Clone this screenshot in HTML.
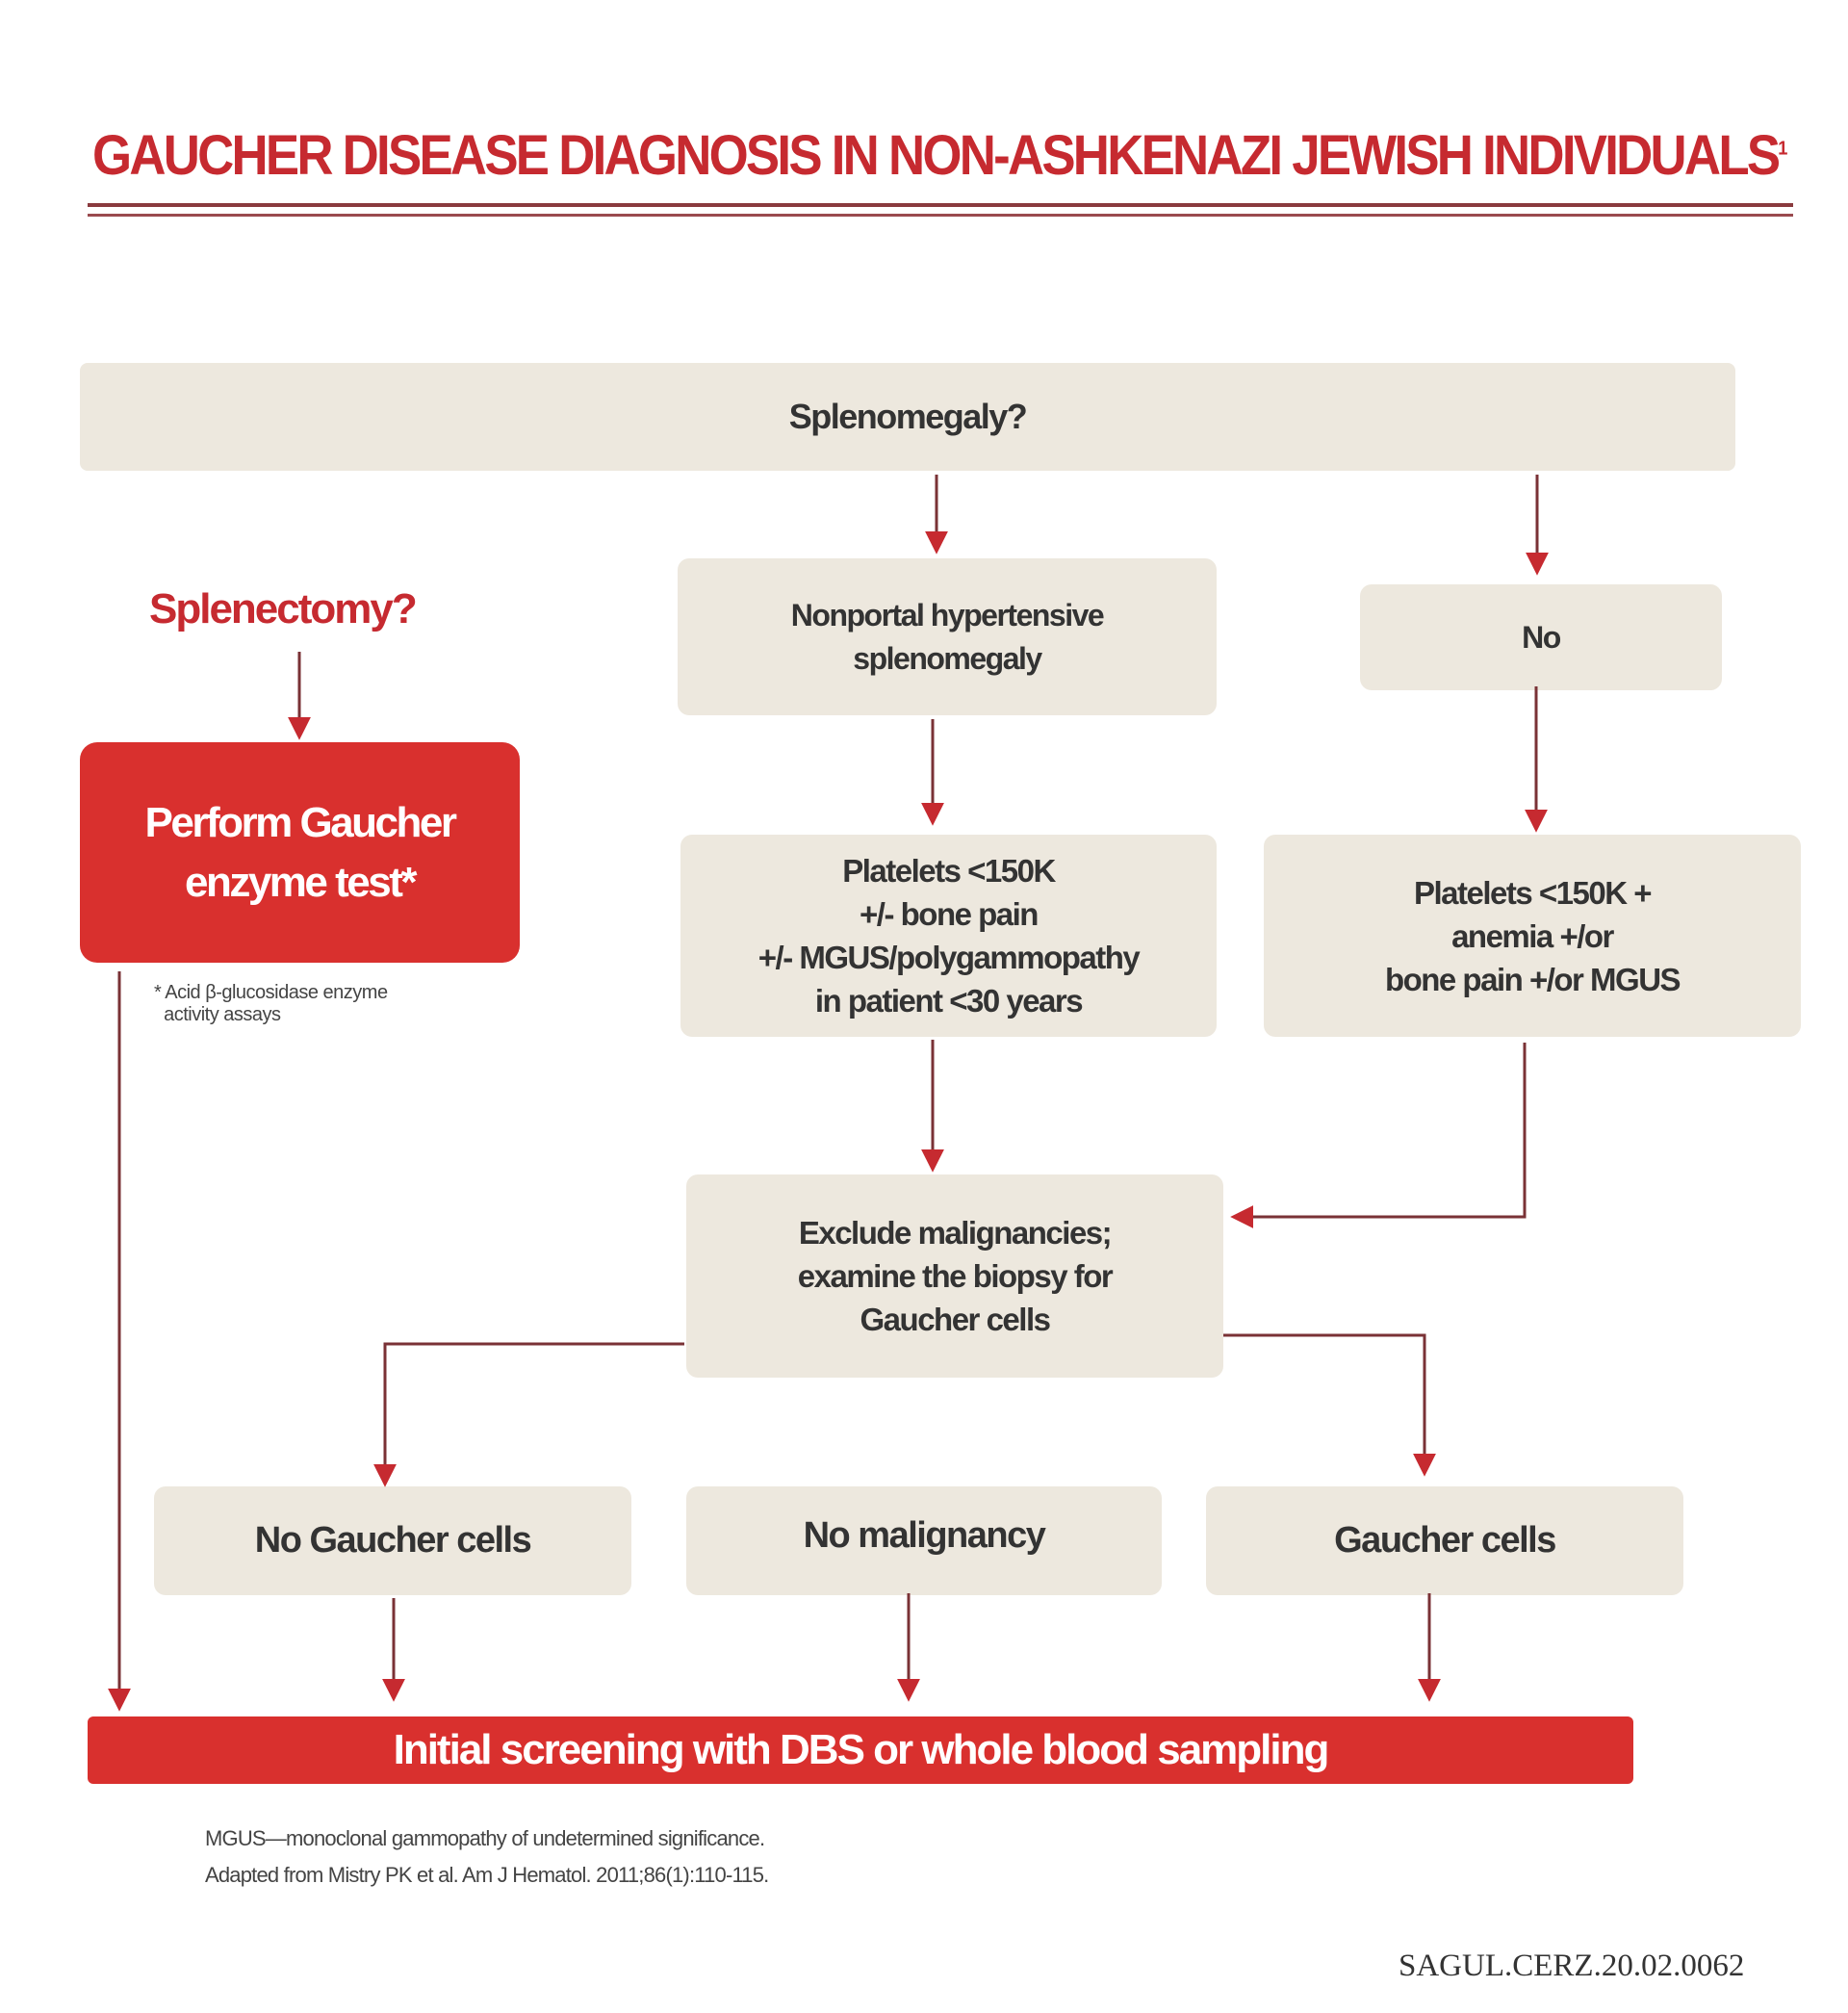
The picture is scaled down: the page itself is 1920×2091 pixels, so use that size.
<!DOCTYPE html>
<html><head><meta charset="utf-8"><style>
body{margin:0;width:1920px;height:2091px;background:#fff;position:relative;overflow:hidden;font-family:"Liberation Sans",sans-serif}
.b{position:absolute;background:#ede8de;border-radius:12px;display:flex;align-items:center;justify-content:center;text-align:center;color:#333;font-weight:bold;letter-spacing:-1.5px}
.t{position:absolute;white-space:nowrap}
</style></head><body>
<div class="t" style="left:96px;top:128px;font-size:58px;font-weight:bold;color:#c62a30;letter-spacing:-3px;transform:scaleX(0.91);transform-origin:left;">GAUCHER DISEASE DIAGNOSIS IN NON-ASHKENAZI JEWISH INDIVIDUALS<sup style="font-size:20px">1</sup></div>
<div style="position:absolute;left:91px;top:211px;width:1772px;height:4px;background:#8a3a3e"></div>
<div style="position:absolute;left:91px;top:222px;width:1772px;height:3px;background:#9a4a4e"></div>

<div class="b" style="left:83px;top:377px;width:1720px;height:112px;font-size:36px;border-radius:8px">Splenomegaly?</div>
<div class="t" style="left:155px;top:608px;font-size:44px;font-weight:bold;color:#c62a30;letter-spacing:-2px">Splenectomy?</div>
<div class="b" style="left:83px;top:771px;width:457px;height:229px;background:#d9302e;color:#fff;font-size:44px;line-height:62px;border-radius:18px;letter-spacing:-2.5px">Perform Gaucher<br>enzyme test*</div>
<div class="t" style="left:160px;top:1020px;font-size:20px;color:#444;line-height:23px;letter-spacing:-0.5px">* Acid β-glucosidase enzyme<br>&nbsp;&nbsp;activity assays</div>

<div class="b" style="left:704px;top:580px;width:560px;height:163px;font-size:32px;line-height:45px">Nonportal hypertensive<br>splenomegaly</div>
<div class="b" style="left:1413px;top:607px;width:376px;height:110px;font-size:32px">No</div>
<div class="b" style="left:707px;top:867px;width:557px;height:210px;font-size:33px;line-height:45px">Platelets &lt;150K<br>+/- bone pain<br>+/- MGUS/polygammopathy<br>in patient &lt;30 years</div>
<div class="b" style="left:1313px;top:867px;width:558px;height:210px;font-size:33px;line-height:45px">Platelets &lt;150K +<br>anemia +/or<br>bone pain +/or MGUS</div>
<div class="b" style="left:713px;top:1220px;width:558px;height:211px;font-size:33px;line-height:45px">Exclude malignancies;<br>examine the biopsy for<br>Gaucher cells</div>
<div class="b" style="left:160px;top:1544px;width:496px;height:113px;font-size:38px">No Gaucher cells</div>
<div class="b" style="left:713px;top:1544px;width:494px;height:113px;font-size:38px;padding-bottom:10px;box-sizing:border-box">No malignancy</div>
<div class="b" style="left:1253px;top:1544px;width:496px;height:113px;font-size:38px">Gaucher cells</div>
<div class="b" style="left:91px;top:1783px;width:1606px;height:70px;background:#d9302e;color:#fff;font-size:44px;border-radius:6px;letter-spacing:-2px">Initial screening with DBS or whole blood sampling</div>

<div class="t" style="left:213px;top:1897px;font-size:22px;color:#444;letter-spacing:-0.8px">MGUS—monoclonal gammopathy of undetermined significance.</div>
<div class="t" style="left:213px;top:1935px;font-size:22px;color:#444;letter-spacing:-0.8px">Adapted from Mistry PK et al. Am J Hematol. 2011;86(1):110-115.</div>
<div class="t" style="left:1453px;top:2024px;font-size:33px;color:#333;font-family:'Liberation Serif',serif;letter-spacing:0px">SAGUL.CERZ.20.02.0062</div>

<svg width="1920" height="2091" style="position:absolute;left:0;top:0">
<defs><marker id="a" viewBox="0 0 10 10" refX="8" refY="5" markerWidth="24" markerHeight="24" markerUnits="userSpaceOnUse" orient="auto"><path d="M0,0L10,5L0,10z" fill="#c62a30"/></marker></defs>
<g stroke="#7a3236" stroke-width="3" fill="none" marker-end="url(#a)">
<path d="M973 493V571"/>
<path d="M1597 493V593"/>
<path d="M311 677V764"/>
<path d="M969 747V853"/>
<path d="M1596 713V860"/>
<path d="M969 1080V1213"/>
<path d="M1584 1083V1264H1283"/>
<path d="M711 1396H400V1540"/>
<path d="M1271 1387H1480V1529"/>
<path d="M409 1660V1763"/>
<path d="M944 1655V1763"/>
<path d="M1485 1655V1763"/>
<path d="M124 1009V1773"/>
</g></svg>
</body></html>
